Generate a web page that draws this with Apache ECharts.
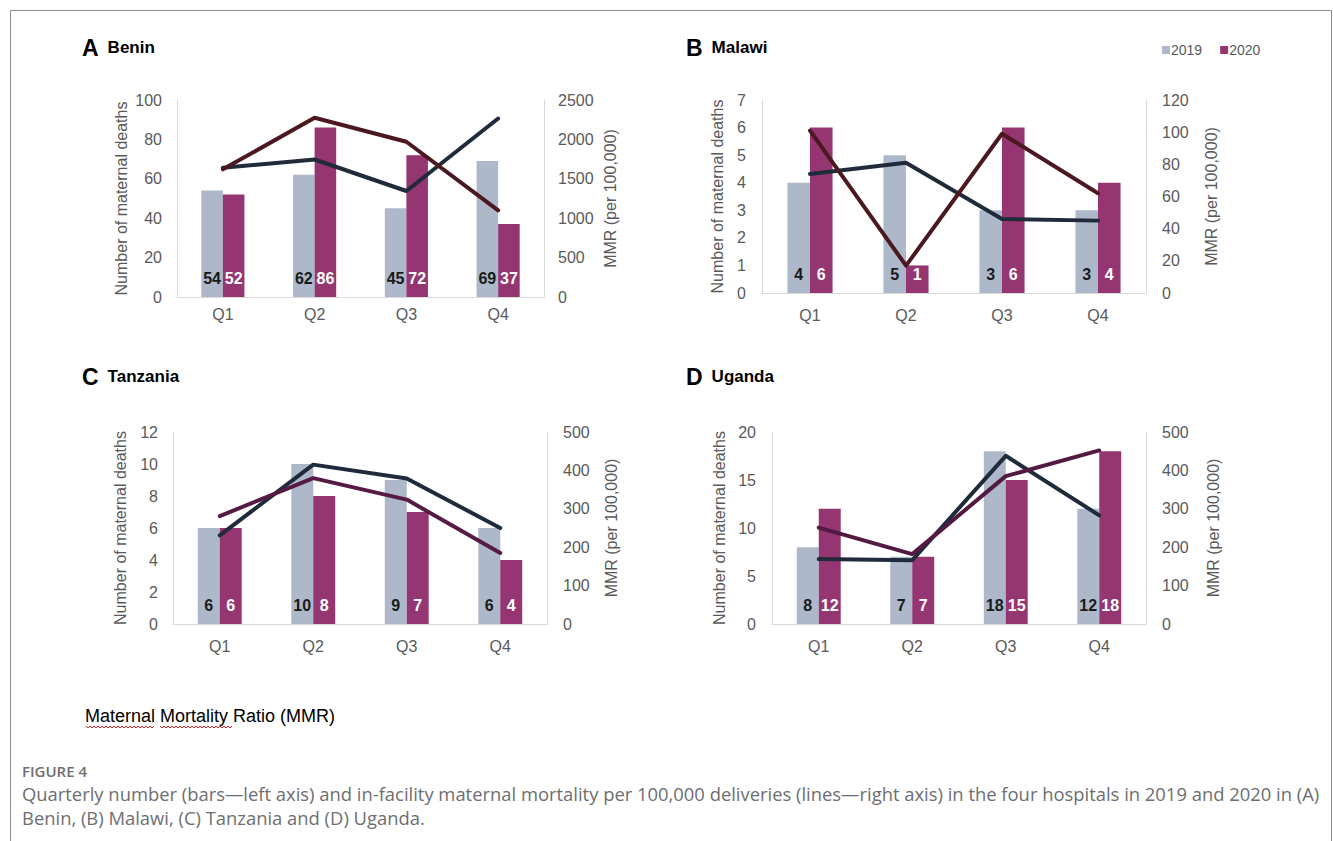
<!DOCTYPE html>
<html>
<head>
<meta charset="utf-8">
<script src="https://cdn.jsdelivr.net/npm/echarts@6/dist/echarts.min.js"></script>
<style>
  html, body { margin: 0; padding: 0; background: #ffffff; }
  #chart { width: 1333px; height: 841px; }
</style>
</head>
<body>
<div id="chart"></div>
<script>
// Quarterly maternal deaths (bars, left axis) and MMR per 100,000 deliveries (lines, right axis)
const quarters = ['Q1', 'Q2', 'Q3', 'Q4'];
const yearLabels = ['2019', '2020'];

const beninDeaths2019 = [54, 62, 45, 69];
const beninDeaths2020 = [52, 86, 72, 37];
const beninMMR2019 = [1640, 1745, 1345, 2265];
const beninMMR2020 = [1620, 2275, 1970, 1100];

const malawiDeaths2019 = [4, 5, 3, 3];
const malawiDeaths2020 = [6, 1, 6, 4];
const malawiMMR2019 = [74, 81, 46, 45];
const malawiMMR2020 = [101, 17, 99, 62];

const tanzaniaDeaths2019 = [6, 10, 9, 6];
const tanzaniaDeaths2020 = [6, 8, 7, 4];
const tanzaniaMMR2019 = [231, 415, 379, 250];
const tanzaniaMMR2020 = [281, 380, 324, 185];

const ugandaDeaths2019 = [8, 7, 18, 12];
const ugandaDeaths2020 = [12, 7, 15, 18];
const ugandaMMR2019 = [169, 166, 438, 283];
const ugandaMMR2020 = [251, 182, 385, 452];

const leftAxisTitle = 'Number of maternal deaths';
const rightAxisTitle = 'MMR (per 100,000)';

const COLOR_2019 = '#adb9ca';
const COLOR_2020 = '#953672';
const LINE_2019 = '#1f2b3a';
const AXIS_TEXT = '#595959';
const AXIS_LINE = '#d9d9d9';
const FONT = 'Liberation Sans, Arial, sans-serif';

// Layout of the four panels
const panels = [
  { letter: 'A', name: 'Benin', d19: beninDeaths2019, d20: beninDeaths2020, m19: beninMMR2019, m20: beninMMR2020,
    leftMax: 100, leftStep: 20, rightMax: 2500, rightStep: 500, line20: '#4b1820',
    grid: { left: 177, top: 100, width: 367, height: 197 }, titlePos: [82, 36],
    leftGap: 48, rightGap: 58, leftMargin: 15, rightMargin: 14, xMargin: 9 },
  { letter: 'B', name: 'Malawi', d19: malawiDeaths2019, d20: malawiDeaths2020, m19: malawiMMR2019, m20: malawiMMR2020,
    leftMax: 7, leftStep: 1, rightMax: 120, rightStep: 20, line20: '#4b1820',
    grid: { left: 762, top: 100, width: 384, height: 193 }, titlePos: [686, 36],
    leftGap: 37, rightGap: 57, leftMargin: 16, rightMargin: 16, xMargin: 14 },
  { letter: 'C', name: 'Tanzania', d19: tanzaniaDeaths2019, d20: tanzaniaDeaths2020, m19: tanzaniaMMR2019, m20: tanzaniaMMR2020,
    leftMax: 12, leftStep: 2, rightMax: 500, rightStep: 100, line20: '#561b45',
    grid: { left: 173, top: 432, width: 374, height: 192 }, titlePos: [82, 365],
    leftGap: 45, rightGap: 56, leftMargin: 15, rightMargin: 16, xMargin: 14 },
  { letter: 'D', name: 'Uganda', d19: ugandaDeaths2019, d20: ugandaDeaths2020, m19: ugandaMMR2019, m20: ugandaMMR2020,
    leftMax: 20, leftStep: 5, rightMax: 500, rightStep: 100, line20: '#521a40',
    grid: { left: 772, top: 432, width: 374, height: 192 }, titlePos: [686, 365],
    leftGap: 45, rightGap: 59, leftMargin: 16, rightMargin: 16, xMargin: 14 }
];

const plainNumber = function (v) { return String(v); };

const grids = [], xAxes = [], yAxes = [], series = [], titles = [];

panels.forEach(function (p, i) {
  grids.push(Object.assign({ containLabel: false }, p.grid));

  titles.push({
    text: '{l|' + p.letter + '}{n|' + p.name + '}',
    left: p.titlePos[0], top: p.titlePos[1], padding: 0,
    textStyle: {
      rich: {
        l: { fontFamily: FONT, fontWeight: 'bold', fontSize: 23, color: '#000000' },
        n: { fontFamily: FONT, fontWeight: 'bold', fontSize: 17, color: '#000000', padding: [0, 0, 0, 9] }
      }
    }
  });

  xAxes.push({
    type: 'category', gridIndex: i, data: quarters,
    axisLine: { show: true, lineStyle: { color: AXIS_LINE, width: 1 } },
    axisTick: { show: false },
    axisLabel: { color: AXIS_TEXT, fontSize: 16, fontFamily: FONT, margin: p.xMargin }
  });

  yAxes.push({
    type: 'value', gridIndex: i, position: 'left', min: 0, max: p.leftMax, interval: p.leftStep,
    name: leftAxisTitle, nameLocation: 'middle', nameGap: p.leftGap, nameRotate: 90,
    nameTextStyle: { color: AXIS_TEXT, fontSize: 16, fontFamily: FONT },
    axisLine: { show: true, lineStyle: { color: AXIS_LINE, width: 1 } },
    axisTick: { show: false }, splitLine: { show: false },
    axisLabel: { color: AXIS_TEXT, fontSize: 16, fontFamily: FONT, margin: p.leftMargin, formatter: plainNumber }
  });
  yAxes.push({
    type: 'value', gridIndex: i, position: 'right', min: 0, max: p.rightMax, interval: p.rightStep,
    name: rightAxisTitle, nameLocation: 'middle', nameGap: p.rightGap, nameRotate: 90,
    nameTextStyle: { color: AXIS_TEXT, fontSize: 16, fontFamily: FONT },
    axisLine: { show: true, lineStyle: { color: AXIS_LINE, width: 1 } },
    axisTick: { show: false }, splitLine: { show: false },
    axisLabel: { color: AXIS_TEXT, fontSize: 16, fontFamily: FONT, margin: p.rightMargin, formatter: plainNumber }
  });

  const barLabel = function (color) {
    return { show: true, position: 'insideBottom', distance: 11, color: color,
             fontSize: 16, fontWeight: 'bold', fontFamily: FONT };
  };

  series.push({
    name: yearLabels[0], type: 'bar', xAxisIndex: i, yAxisIndex: 2 * i, data: p.d19,
    barGap: '0%', barCategoryGap: '53%',
    itemStyle: { color: COLOR_2019 }, label: barLabel('#1a1a1a'), z: 2
  });
  series.push({
    name: yearLabels[1], type: 'bar', xAxisIndex: i, yAxisIndex: 2 * i, data: p.d20,
    barGap: '0%', barCategoryGap: '53%',
    itemStyle: { color: COLOR_2020 }, label: barLabel('#ffffff'), z: 2
  });
  series.push({
    name: 'MMR ' + yearLabels[0], type: 'line', xAxisIndex: i, yAxisIndex: 2 * i + 1, data: p.m19,
    showSymbol: false, symbol: 'none', lineStyle: { color: LINE_2019, width: 4, cap: 'round', join: 'round' }, z: 4
  });
  series.push({
    name: 'MMR ' + yearLabels[1], type: 'line', xAxisIndex: i, yAxisIndex: 2 * i + 1, data: p.m20,
    showSymbol: false, symbol: 'none', lineStyle: { color: p.line20, width: 4, cap: 'round', join: 'round' }, z: 4
  });
});

// Red wavy spell-check underline beneath two words of the note
function squiggle(x0, x1, y) {
  const pts = [];
  for (let x = x0, k = 0; x <= x1; x += 2, k++) pts.push([x, y + (k % 2 ? 2 : 0)]);
  return pts;
}

const captionText = 'Quarterly number (bars\u2014left axis) and in-facility maternal mortality per 100,000 deliveries (lines\u2014right axis) in the four hospitals in 2019 and 2020 in (A)';
const captionText2 = 'Benin, (B) Malawi, (C) Tanzania and (D) Uganda.';

const option = {
  backgroundColor: '#ffffff',
  animation: false,
  title: titles,
  legend: {
    data: yearLabels, left: 1157, top: 38, icon: 'rect', itemWidth: 8, itemHeight: 8, itemGap: 18,
    textStyle: { color: AXIS_TEXT, fontSize: 14, fontFamily: FONT, padding: [0, 0, 0, -4] },
    selectedMode: false
  },
  grid: grids, xAxis: xAxes, yAxis: yAxes, series: series,
  graphic: [
    { type: 'rect', shape: { x: 10.5, y: 10.5, width: 1321, height: 850 }, style: { fill: 'none', stroke: '#8c8c8c', lineWidth: 1 }, silent: true },
    { type: 'text', left: 85, top: 707, style: { text: 'Maternal Mortality Ratio (MMR)', fill: '#000000', font: '18px Liberation Sans, Arial, sans-serif' } },
    { type: 'polyline', shape: { points: squiggle(86, 155, 726) }, style: { stroke: '#e02020', lineWidth: 1, fill: 'none' }, silent: true },
    { type: 'polyline', shape: { points: squiggle(160, 232, 726) }, style: { stroke: '#e02020', lineWidth: 1, fill: 'none' }, silent: true },
    { type: 'text', left: 22, top: 763, style: { text: 'FIGURE 4', fill: '#6d6e71', font: '600 15px Open Sans, sans-serif' } },
    { type: 'text', left: 22, top: 784, style: { text: captionText, fill: '#6d6e71', font: '18.4px Open Sans, sans-serif' } },
    { type: 'text', left: 22, top: 808, style: { text: captionText2, fill: '#6d6e71', font: '18.4px Open Sans, sans-serif' } }
  ]
};

const chart = echarts.init(document.getElementById('chart'), null, { renderer: 'svg' });
chart.setOption(option);
</script>
</body>
</html>
